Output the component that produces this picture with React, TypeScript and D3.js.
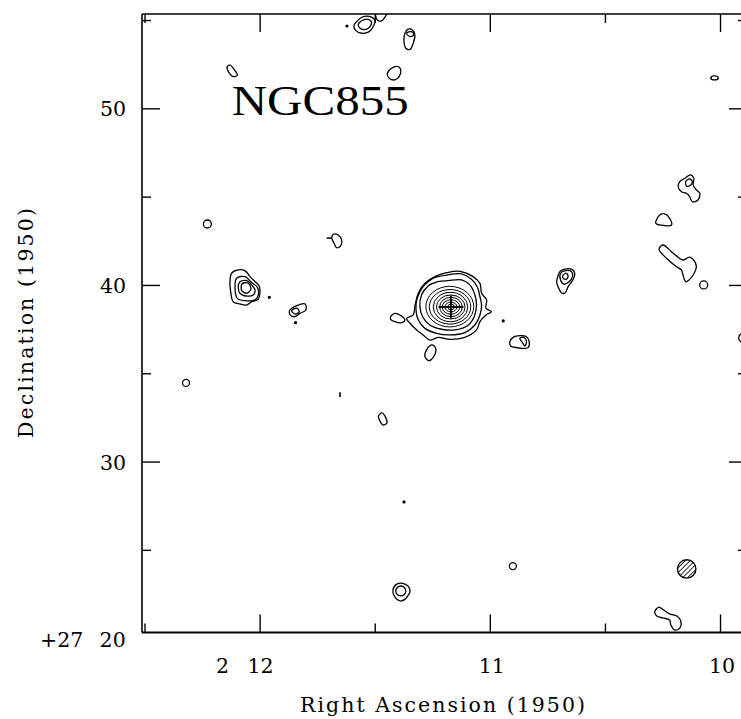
import React from "react";
import * as d3 from "d3";

const W = 741;
const H = 719;

// Axes: RA in minutes past 2h (1950), Dec in arcmin past +27° (1950)
const raDomain = [12.511, 9.885];
const decDomain = [20.36, 55.37];
const raTicks = [12.5, 12, 11.5, 11, 10.5, 10];
const raMajor = [12, 11, 10];
const raLabels = ["2 12", "11", "10"];
const decTicks = [55, 50, 45, 40, 35, 30, 25];
const decMajor = [50, 40, 30];
const decLabels = ["50", "40", "30"];
const cornerLabel = ["+27", "20"];
const title = "NGC855";
const xTitle = "Right Ascension (1950)";
const yTitle = "Declination (1950)";

// NGC 855 main source contours [RA min, Dec arcmin]
const ngc855Outer = [[11.190,40.72],[11.132,40.80],[11.075,40.50],[11.045,40.12],[11.038,39.56],[11.016,39.18],[11.019,38.71],[10.995,38.51],[11.019,38.33],[11.045,37.95],[11.060,37.48],[11.111,37.06],[11.176,36.95],[11.227,37.06],[11.263,36.91],[11.292,37.20],[11.320,37.48],[11.349,37.86],[11.364,38.14],[11.335,38.33],[11.328,38.80],[11.313,39.56],[11.284,40.12],[11.241,40.50]];
const ngc855Mid = [[11.190,40.59],[11.125,40.65],[11.082,40.35],[11.057,39.93],[11.045,39.36],[11.038,38.89],[11.045,38.33],[11.067,37.76],[11.111,37.33],[11.176,37.20],[11.233,37.29],[11.284,37.57],[11.313,38.04],[11.323,38.61],[11.318,39.27],[11.292,39.93],[11.248,40.41]];
const ngc855Third = [[11.183,40.27],[11.125,40.31],[11.089,40.03],[11.067,39.46],[11.060,38.89],[11.070,38.23],[11.101,37.70],[11.154,37.48],[11.212,37.52],[11.263,37.76],[11.294,38.23],[11.306,38.80],[11.299,39.46],[11.270,39.97],[11.227,40.21]];
// inner nested contours: [RA, Dec, half-width RA min, half-height Dec arcmin]
const ngc855Rings = [
  [11.176, 38.80, 0.104, 1.15],
  [11.175, 38.79, 0.090, 0.98],
  [11.173, 38.78, 0.075, 0.83],
  [11.172, 38.78, 0.062, 0.68],
  [11.171, 38.78, 0.049, 0.55],
  [11.171, 38.78, 0.038, 0.41],
  [11.171, 38.78, 0.026, 0.28],
  [11.171, 38.78, 0.014, 0.17],
];
const crossCenter = [11.171, 38.78];

// surrounding sources
const srcM1 = [[12.124,40.69],[12.095,40.88],[12.066,40.84],[12.044,40.50],[12.022,40.21],[12.004,39.97],[12.001,39.56],[12.008,39.22],[12.037,39.08],[12.058,38.89],[12.088,38.95],[12.117,39.08],[12.128,39.65],[12.131,40.21]];
const srcM2 = [[12.102,40.41],[12.066,40.50],[12.037,40.16],[12.012,39.90],[12.008,39.46],[12.022,39.18],[12.066,39.14],[12.099,39.27],[12.109,39.84]];
const srcM3 = [[12.088,40.21],[12.058,40.27],[12.037,40.03],[12.022,39.74],[12.030,39.46],[12.058,39.40],[12.088,39.56],[12.095,39.90]];
const srcM4 = [[12.079,40.08],[12.053,40.14],[12.040,39.80],[12.057,39.57],[12.079,39.69]];
const srcN1 = [[11.863,38.71],[11.834,38.89],[11.805,38.95],[11.801,38.61],[11.827,38.42],[11.849,38.23],[11.870,38.33],[11.873,38.55]];
const srcN2 = [[11.863,38.57],[11.841,38.71],[11.830,38.51],[11.849,38.38]];
const srcL = [[11.689,42.71],[11.682,42.90],[11.661,42.86],[11.646,42.58],[11.650,42.24],[11.668,42.14],[11.679,42.39],[11.688,42.63]];
const srcT = [[11.486,32.61],[11.471,32.78],[11.454,32.50],[11.449,32.21],[11.467,32.10],[11.480,32.33]];
const srcW = [[11.423,22.75],[11.406,23.09],[11.371,23.09],[11.349,22.75],[11.362,22.36],[11.389,22.13],[11.415,22.36]];
const srcY = [[10.286,21.51],[10.268,21.79],[10.247,21.62],[10.221,21.40],[10.190,21.28],[10.173,21.00],[10.177,20.60],[10.199,20.49],[10.216,20.77],[10.221,21.06],[10.251,21.17],[10.277,21.28]];
const srcP1 = [[10.915,36.82],[10.901,37.06],[10.872,37.16],[10.843,37.10],[10.831,36.82],[10.836,36.48],[10.864,36.44],[10.894,36.50],[10.912,36.57]];
const srcP2 = [[10.872,37.01],[10.854,37.06],[10.843,36.82],[10.850,36.57],[10.860,36.76]];
const srcO1 = [[11.433,38.23],[11.415,38.42],[11.393,38.33],[11.371,38.04],[11.385,37.89],[11.415,37.95],[11.433,38.08]];
const srcO2 = [[11.277,36.35],[11.255,36.63],[11.241,36.53],[11.237,36.25],[11.248,35.93],[11.266,35.74],[11.284,35.97]];
const srcQ1 = [[10.698,40.78],[10.676,40.93],[10.647,40.92],[10.633,40.69],[10.640,40.35],[10.652,40.12],[10.662,39.93],[10.676,39.56],[10.691,39.59],[10.706,39.93],[10.712,40.21],[10.706,40.54]];
const srcQ2 = [[10.695,40.69],[10.672,40.84],[10.647,40.78],[10.643,40.50],[10.658,40.21],[10.681,40.08],[10.695,40.31]];
const srcQ3 = [[10.684,40.59],[10.669,40.69],[10.662,40.50],[10.672,40.35],[10.684,40.41]];
const srcF1 = [[10.177,45.88],[10.155,46.07],[10.131,46.26],[10.116,46.07],[10.119,45.69],[10.105,45.41],[10.090,45.22],[10.098,44.84],[10.122,44.74],[10.134,45.03],[10.148,45.22],[10.170,45.31],[10.184,45.59]];
const srcF2 = [[10.151,45.88],[10.134,46.03],[10.122,45.88],[10.131,45.67],[10.148,45.63]];
const srcG = [[10.264,43.99],[10.242,44.05],[10.221,43.80],[10.213,43.42],[10.242,43.39],[10.281,43.52]];
const srcH = [[10.267,42.05],[10.250,42.29],[10.213,41.91],[10.184,41.60],[10.163,41.44],[10.134,41.60],[10.112,41.35],[10.105,41.06],[10.119,40.59],[10.137,40.31],[10.151,40.21],[10.163,40.59],[10.170,40.88],[10.191,41.06],[10.235,41.54]];
const srcD = [[12.143,52.39],[12.131,52.47],[12.109,52.16],[12.099,51.92],[12.114,51.82],[12.138,52.11]];
const srcC = [[11.448,51.98],[11.429,52.30],[11.400,52.39],[11.389,52.20],[11.396,51.82],[11.415,51.64],[11.439,51.73]];
const srcB1 = [[11.371,54.28],[11.357,54.51],[11.338,54.47],[11.328,54.18],[11.335,53.71],[11.349,53.37],[11.367,53.43],[11.375,53.80]];
const srcB2 = [[11.364,54.28],[11.342,54.37],[11.332,54.18],[11.349,54.09]];
const srcA1 = [[11.581,54.94],[11.552,55.22],[11.516,55.19],[11.501,54.99],[11.509,54.65],[11.526,54.37],[11.559,54.28],[11.584,54.43],[11.593,54.69]];
const srcA1b = [[11.574,54.75],[11.559,54.99],[11.530,55.07],[11.516,54.88],[11.530,54.56],[11.559,54.51]];
const srcA2 = [[11.498,55.43],[11.491,55.03],[11.472,54.98],[11.458,55.19],[11.448,55.49],[11.475,55.71]];

const closedContours = [
  ngc855Outer, ngc855Mid, ngc855Third,
  srcM1, srcM2, srcM3, srcM4, srcN1, srcN2, srcL, srcT, srcW, srcY,
  srcP1, srcP2, srcO1, srcO2, srcQ1, srcQ2, srcQ3, srcF1, srcF2, srcG, srcH,
  srcD, srcC, srcB1, srcB2, srcA1, srcA1b, srcA2,
];

// open contour fragments
const openContours = [
  [[11.711, 42.67], [11.689, 42.69]],
  [[11.653, 33.95], [11.653, 33.68]],
];

// small compact contours: [RA, Dec, half RA, half Dec]
const smallContours = [
  [12.229, 43.48, 0.0174, 0.226],
  [12.322, 34.48, 0.0152, 0.198],
  [10.902, 24.11, 0.0152, 0.198],
  [10.073, 40.03, 0.0174, 0.226],
  [10.026, 51.75, 0.0161, 0.113],
  [9.895, 37.03, 0.026, 0.283],
  [11.389, 22.70, 0.0217, 0.283],
];

// isolated peaks drawn as dots
const dots = [[11.960, 39.33], [11.846, 37.89], [10.944, 37.99], [11.375, 27.74], [11.623, 54.69]];

// synthesized beam position
const beamCenter = [10.147, 23.95];

export default function App() {
  const left = 142, right = 747, top = 14, bottom = 632.5;
  const x = d3.scaleLinear().domain(raDomain).range([left + 0.5, right]);
  const y = d3.scaleLinear().domain(decDomain).range([bottom - 0.2, top]);

  const closedLine = d3
    .line<number[]>()
    .x((p) => x(p[0]))
    .y((p) => y(p[1]))
    .curve(d3.curveCatmullRomClosed.alpha(0.5));
  const openLine = d3
    .line<number[]>()
    .x((p) => x(p[0]))
    .y((p) => y(p[1]));

  const serif = "'DejaVu Serif', serif";
  const majorLen = 18;
  const minorLen = 9;
  const tickStroke = 1.4;

  const raTickEls = raTicks.map((t, i) => {
    const len = raMajor.includes(t) ? majorLen : minorLen;
    const xx = x(t);
    return (
      <g key={"rt" + i}>
        <line x1={xx} x2={xx} y1={bottom} y2={bottom - len} stroke="#000" strokeWidth={tickStroke} />
        <line x1={xx} x2={xx} y1={top} y2={top + len} stroke="#000" strokeWidth={tickStroke} />
      </g>
    );
  });
  const decTickEls = decTicks.map((t, i) => {
    const len = decMajor.includes(t) ? majorLen : minorLen;
    const yy = y(t);
    return (
      <g key={"dt" + i}>
        <line x1={left} x2={left + len} y1={yy} y2={yy} stroke="#000" strokeWidth={tickStroke} />
        <line x1={right} x2={right - len} y1={yy} y2={yy} stroke="#000" strokeWidth={tickStroke} />
      </g>
    );
  });

  const [cx, cy] = [x(crossCenter[0]), y(crossCenter[1])];

  return (
    <svg
      width={W}
      height={H}
      viewBox={`0 0 ${W} ${H}`}
      style={{ position: "absolute", left: 0, top: 0, background: "#fff" }}
    >
      <defs>
        <clipPath id="plotClip">
          <rect x={left} y={top} width={right - left} height={bottom - top} />
        </clipPath>
        <pattern id="hatch" patternUnits="userSpaceOnUse" width={3.4} height={3.4} patternTransform="rotate(45)">
          <line x1={0} y1={0} x2={0} y2={3.4} stroke="#000" strokeWidth={1.6} />
        </pattern>
      </defs>
      <rect x={0} y={0} width={W} height={H} fill="#fff" />

      <g clipPath="url(#plotClip)" fill="none" stroke="#000" strokeWidth={1.3} strokeLinejoin="round">
        {closedContours.map((c, i) => (
          <path key={"c" + i} d={closedLine(c) || ""} />
        ))}
        {openContours.map((c, i) => (
          <path key={"o" + i} d={openLine(c) || ""} strokeWidth={1.6} />
        ))}
        {ngc855Rings.map((r, i) => (
          <ellipse
            key={"r" + i}
            cx={x(r[0])}
            cy={y(r[1])}
            rx={Math.abs(x(r[0] + r[2]) - x(r[0]))}
            ry={Math.abs(y(r[1] + r[3]) - y(r[1]))}
            strokeWidth={1.0}
          />
        ))}
        {smallContours.map((r, i) => (
          <ellipse
            key={"s" + i}
            cx={x(r[0])}
            cy={y(r[1])}
            rx={Math.abs(x(r[0] + r[2]) - x(r[0]))}
            ry={Math.abs(y(r[1] + r[3]) - y(r[1]))}
          />
        ))}
        {dots.map((p, i) => (
          <circle key={"d" + i} cx={x(p[0])} cy={y(p[1])} r={1.6} fill="#000" stroke="none" />
        ))}
        <line x1={cx - 12.5} x2={cx + 12.5} y1={cy} y2={cy} strokeWidth={1.8} />
        <line x1={cx} x2={cx} y1={cy - 11.5} y2={cy + 11.5} strokeWidth={1.8} />
        <circle cx={x(beamCenter[0])} cy={y(beamCenter[1])} r={9.2} fill="url(#hatch)" stroke="#000" strokeWidth={1.4} />
      </g>

      {/* frame */}
      <g stroke="#000" fill="none">
        <line x1={left} x2={right} y1={top} y2={top} strokeWidth={1.5} />
        <line x1={left} x2={right} y1={bottom} y2={bottom} strokeWidth={2} />
        <line x1={left} x2={left} y1={top} y2={bottom} strokeWidth={1.6} />
        <line x1={right} x2={right} y1={top} y2={bottom} strokeWidth={1.6} />
      </g>
      {raTickEls}
      {decTickEls}

      {/* tick labels */}
      <g fontFamily={serif} fontSize={20.5} fill="#000">
        {decMajor.map((t, i) => (
          <text key={"dl" + i} x={126} y={y(t) + 7.5} textAnchor="end">
            {decLabels[i]}
          </text>
        ))}
        <text x={83.3} y={647} textAnchor="end">
          {cornerLabel[0]}
        </text>
        <text x={125.7} y={647} textAnchor="end">
          {cornerLabel[1]}
        </text>
        {raMajor.map((t, i) => {
          const parts = raLabels[i].split(" ");
          if (parts.length === 2) {
            return (
              <g key={"rl" + i}>
                <text x={x(t) - 31} y={672.5} textAnchor="end">
                  {parts[0]}
                </text>
                <text x={x(t) + 0.5} y={672.5} textAnchor="middle">
                  {parts[1]}
                </text>
              </g>
            );
          }
          return (
            <text key={"rl" + i} x={x(t) + 1.5} y={672.5} textAnchor="middle">
              {raLabels[i]}
            </text>
          );
        })}
        <text x={442.5} y={712} textAnchor="middle" textLength={285} lengthAdjust="spacing">
          {xTitle}
        </text>
        <text
          transform={`translate(32.5,323) rotate(-90)`}
          textAnchor="middle"
          textLength={230}
          lengthAdjust="spacing"
        >
          {yTitle}
        </text>
      </g>

      <text
        x={231.7}
        y={115}
        fontFamily="'Liberation Serif', serif"
        fontSize={42}
        textLength={177}
        lengthAdjust="spacingAndGlyphs"
        fill="#000"
      >
        {title}
      </text>
    </svg>
  );
}
